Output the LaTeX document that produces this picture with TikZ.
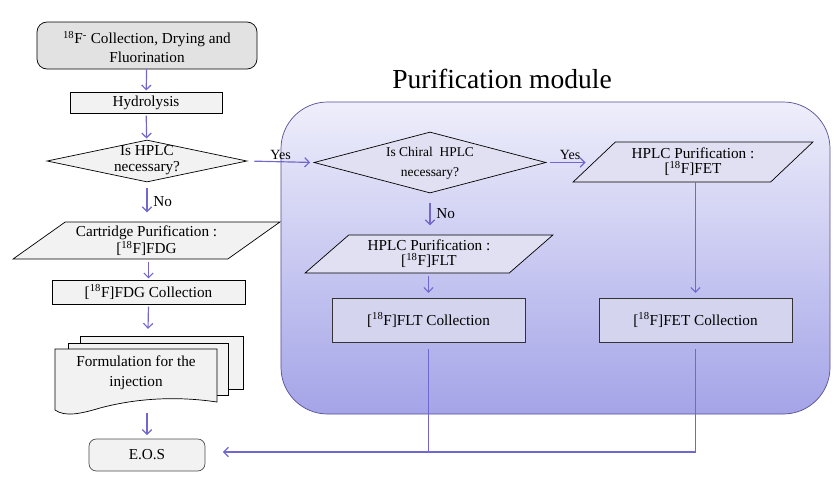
\documentclass[tikz,border=0pt]{standalone}
\usepackage{fontspec}
\setmainfont{Liberation Serif}
\usetikzlibrary{arrows.meta,shapes.geometric}
\definecolor{flowblue}{RGB}{112,104,206}
\definecolor{boxgray}{RGB}{242,242,242}
\definecolor{topgray}{RGB}{226,226,226}
\definecolor{modline}{RGB}{84,80,150}
\definecolor{modtop}{RGB}{238,238,251}
\definecolor{modbot}{RGB}{164,164,232}
\definecolor{modfill}{RGB}{224,224,242}
\definecolor{collfill}{RGB}{212,212,238}
\tikzset{>={Straight Barb[length=4pt,width=8pt]}}
\tikzstyle{flow}=[draw=flowblue,line width=1pt,shorten >=1pt]
\tikzstyle{procbox}=[rectangle,draw=black,fill=boxgray,line width=0.6pt,inner sep=0pt]
\tikzstyle{startbox}=[procbox,fill=topgray,rounded corners=0.3cm]
\tikzstyle{endbox}=[procbox,draw=black!70,rounded corners=0.22cm]
\tikzstyle{decision}=[diamond,draw=black,fill=boxgray,line width=0.6pt,inner sep=0pt]
\tikzstyle{iobox}=[trapezium,trapezium stretches=true,draw=black,fill=boxgray,line width=0.6pt,inner sep=0pt,align=center,font=\fontsize{13}{13}\selectfont]
\tikzstyle{collbox}=[procbox,fill=collfill,draw=black!80]
\tikzstyle{module}=[rectangle,rounded corners=1.4cm,draw=modline,line width=0.6pt,top color=modtop,bottom color=modbot]
\tikzstyle{txt}=[align=center,inner sep=0pt,font=\fontsize{13}{15}\selectfont]
\tikzstyle{docpage}=[draw=black,fill=boxgray,line width=0.6pt]

\begin{document}
\begin{tikzpicture}[x=0.03cm,y=-0.03cm]
	\useasboundingbox (0,0) rectangle (837,495);

	% purification module
	\node[module,minimum width=16.47cm,minimum height=9.36cm] (module) at (555.5,258) {};
	\node[txt,font=\fontsize{23.5}{26}\selectfont] (title) at (502,79) {Purification module};

	% left column
	\node[startbox,minimum width=6.6cm,minimum height=1.41cm] (start) at (147,45.5) {};
	\node[txt,font=\fontsize{13}{16}\selectfont] (starttxt) at (147,47) {\textsuperscript{18}F\textsuperscript{-} Collection, Drying and\\Fluorination};
	\node[procbox,minimum width=4.56cm,minimum height=0.63cm] (hydro) at (146,102.5) {};
	\node[txt] (hydrotxt) at (hydro) {Hydrolysis};
	\node[decision,minimum width=6cm,minimum height=1.26cm] (hplc) at (147,161) {};
	\node[txt,font=\fontsize{13}{13}\selectfont] (hplctxt) at (147,160) {Is HPLC\\necessary?};
	\node[iobox,trapezium left angle=33,trapezium right angle=147,minimum width=8.01cm,minimum height=1.11cm] (cart) at (146.5,240.5) {Cartridge Purification :\\{[}\textsuperscript{18}F{]}FDG};
	\node[procbox,minimum width=5.79cm,minimum height=0.72cm] (fdgcoll) at (148.5,292) {};
	\node[txt] (fdgtxt) at (fdgcoll) {{[}\textsuperscript{18}F{]}FDG Collection};

	% formulation (stacked pages)
	\draw[docpage] (80,336) rectangle (243,389);
	\draw[docpage] (68,343) rectangle (228,395);
	\draw[docpage] (55,349) -- (217,349) -- (217,402) .. controls (170,395) and (130,400) .. (100,408)
		.. controls (80,414) and (65,417) .. (55,410) -- cycle;
	\node[txt,font=\fontsize{13}{17}\selectfont] (form) at (136,373) {Formulation for the\\injection};
	\coordinate (formtop) at (148,330);
	\coordinate (formbot) at (148,414);
	\node[endbox,minimum width=3.48cm,minimum height=0.96cm] (eos) at (147,455) {};
	\node[txt] (eostxt) at (eos) {E.O.S};

	% inside the module
	\node[decision,fill=modfill,minimum width=6.96cm,minimum height=1.83cm] (chiral) at (430,162.5) {};
	\node[txt,font=\fontsize{11.5}{17}\selectfont] (chiraltxt) at (430,163) {Is Chiral\ \ HPLC\\necessary?};
	\node[iobox,fill=modfill,trapezium left angle=40,trapezium right angle=140,minimum width=7.44cm,minimum height=1.14cm] (flt) at (429,254) {HPLC Purification :\\{[}\textsuperscript{18}F{]}FLT};
	\node[iobox,fill=modfill,trapezium left angle=40,trapezium right angle=140,minimum width=7.2cm,minimum height=1.2cm] (fet) at (693,162) {HPLC Purification :\\{[}\textsuperscript{18}F{]}FET};
	\node[collbox,minimum width=5.79cm,minimum height=1.32cm] (fltcoll) at (428.5,320) {};
	\node[txt] (fltcolltxt) at (fltcoll) {{[}\textsuperscript{18}F{]}FLT Collection};
	\node[collbox,minimum width=5.79cm,minimum height=1.32cm] (fetcoll) at (695.5,320) {};
	\node[txt] (fetcolltxt) at (fetcoll) {{[}\textsuperscript{18}F{]}FET Collection};

	% connectors
	\draw[flow,->] (start) -- (hydro);
	\draw[flow,->,shorten <=2pt] (hydro) -- (hplc);
	\draw[flow,->,shorten <=6pt,shorten >=3pt] (hplc.east) -- (chiral.west)
		node[midway,above=1pt,txt,font=\fontsize{12}{12}\selectfont] (yes1) {Yes};
	\draw[flow,->,shorten <=5pt,shorten >=8pt] (hplc.south) -- (cart.north -| hplc.south)
		node[midway,right=5pt,txt,font=\fontsize{13}{13}\selectfont] (no1) {No};
	\draw[flow,->,shorten <=2pt] (cart.south -| fdgcoll.north) -- (fdgcoll.north);
	\draw[flow,->,shorten <=2pt] (fdgcoll.south) -- (formtop);
	\draw[flow,->,shorten >=3pt] (formbot) -- (eos.north |- formbot) -- (eos.north);
	\draw[flow,->,shorten <=3pt,shorten >=7pt] (chiral.east) -- (fet.west |- chiral.east)
		node[midway,above=2pt,txt,font=\fontsize{12}{12}\selectfont] (yes2) {Yes};
	\draw[flow,->,shorten <=8pt,shorten >=8pt] (chiral.south) -- (flt.north -| chiral.south)
		node[midway,right=5pt,txt,font=\fontsize{13}{13}\selectfont] (no2) {No};
	\draw[flow,->,shorten <=2pt,shorten >=4pt] (flt.south -| fltcoll.north) -- (fltcoll.north);
	\draw[flow,->,shorten >=4pt] (fet.south -| fetcoll.north) -- (fetcoll.north);
	\coordinate (join) at (695.5,452);
	\draw[flow,shorten <=6pt,shorten >=0pt] (fltcoll.south) -- (fltcoll.south |- join);
	\draw[flow,->,shorten <=6pt,shorten >=15pt] (fetcoll.south) -- (join) -- (eos.east |- join);
\end{tikzpicture}
\end{document}
